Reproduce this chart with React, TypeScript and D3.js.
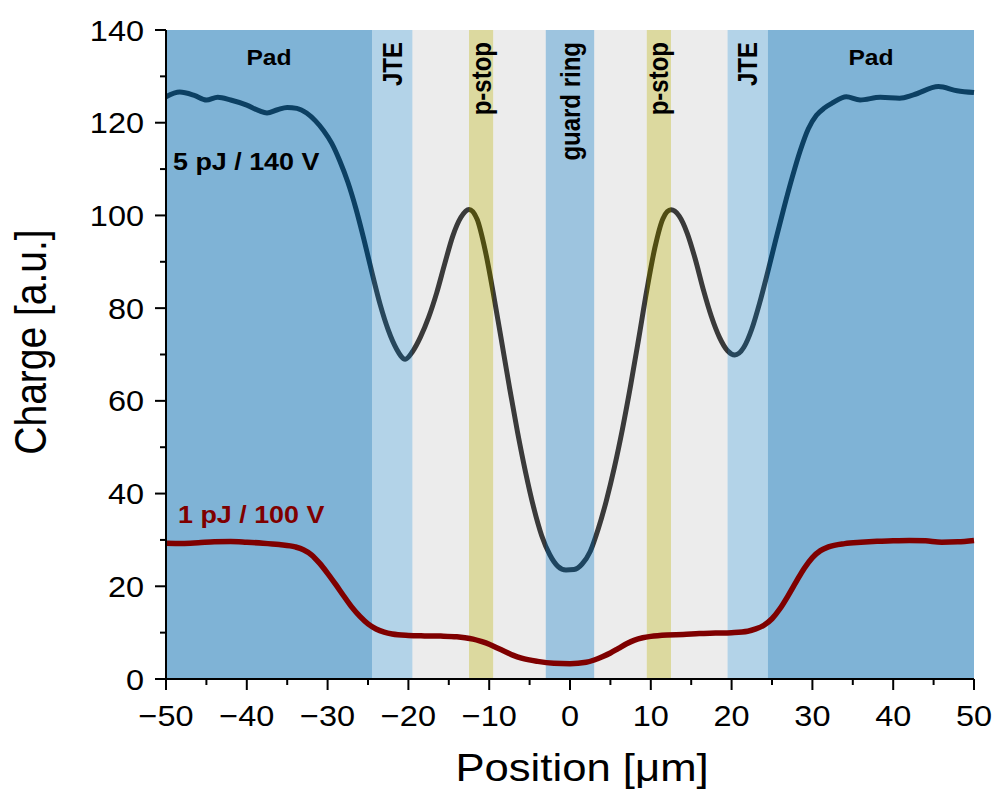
import React, { useRef, useEffect } from 'react';
import * as d3 from 'd3';

// 5 pJ / 140 V trace
const pos5 = [-50, -48.3, -46.5, -45, -43.6, -42, -40, -38.5, -37.5, -36.2, -35, -33.8, -32.6, -31.5, -30.5, -29.5, -28.5, -27.5, -26.5, -25.5, -24.5, -23.5, -22.5, -21.5, -20.4, -19.5, -18.5, -17.5, -16.5, -15.5, -14.5, -13.5, -12.5, -11.5, -10.5, -9.5, -8.5, -7.5, -6.5, -5.5, -4.5, -3.5, -2.5, -1.5, -0.5, 0.5, 1.5, 2.5, 3.5, 4.5, 5.5, 6.5, 7.5, 8.5, 9.5, 10.5, 11.5, 12.5, 13.5, 14.5, 15.5, 16.5, 17.5, 18.5, 19.5, 20.4, 21.5, 22.5, 23.5, 24.5, 25.5, 26.5, 27.5, 28.5, 29.5, 30.5, 31.5, 32.5, 34.2, 35.9, 38.4, 40.8, 42.5, 45.6, 47.9, 50];
const charge5 = [125.6, 126.6, 125.9, 124.9, 125.5, 124.9, 123.8, 122.6, 122.1, 122.8, 123.3, 123.1, 122.1, 120.4, 118.3, 115.6, 111.8, 107.2, 101.5, 94.8, 87.6, 80.8, 75.3, 71.3, 69.0, 70.6, 73.8, 78.0, 83.3, 89.6, 95.6, 99.6, 101.3, 99.2, 92.5, 83.3, 73.2, 63.0, 53.3, 44.6, 37.0, 30.9, 26.8, 24.3, 23.5, 23.6, 24.8, 27.5, 32.4, 38.5, 45.7, 54.0, 63.3, 73.4, 83.8, 93.0, 99.3, 101.2, 99.9, 96.2, 90.6, 84.0, 78.2, 73.7, 70.8, 69.9, 71.5, 75.5, 81.3, 88.0, 95.0, 101.8, 108.2, 114.0, 118.7, 121.6, 123.2, 124.3, 125.6, 124.9, 125.5, 125.3, 126.0, 127.8, 126.9, 126.5];

// 1 pJ / 100 V trace
const pos1 = [-50, -48, -46, -44, -42, -40, -38, -36, -34, -33, -32, -31, -30, -29, -28, -27, -26, -25, -24, -23, -22, -20, -18, -16, -14, -13, -12, -11, -10, -9, -8, -7, -6, -4, -2, 0, 2, 3, 4, 5, 6, 7, 8, 9, 10, 12, 14, 16, 18, 20, 22, 23, 24, 25, 26, 27, 28, 29, 30, 31, 32, 34, 36, 38, 40, 42, 44, 46, 48, 50];
const charge1 = [29.3, 29.25, 29.4, 29.6, 29.65, 29.5, 29.3, 29.0, 28.5, 27.9, 26.8, 25.0, 22.8, 20.4, 17.9, 15.5, 13.5, 11.9, 10.8, 10.1, 9.7, 9.4, 9.3, 9.25, 9.1, 8.9, 8.6, 8.1, 7.5, 6.7, 5.9, 5.1, 4.5, 3.8, 3.4, 3.3, 3.6, 4.1, 4.8, 5.6, 6.6, 7.6, 8.4, 8.9, 9.2, 9.5, 9.6, 9.8, 9.9, 10.0, 10.3, 10.8, 11.6, 13.0, 15.2, 18.0, 21.0, 23.9, 26.2, 27.7, 28.5, 29.2, 29.5, 29.7, 29.8, 29.9, 29.8, 29.5, 29.6, 29.9];

// device regions
const regionStart = [-50, -24.5, -19.5, -12.5, -9.5, -3, 3, 9.5, 12.5, 19.5, 24.5];
const regionEnd = [-24.5, -19.5, -12.5, -9.5, -3, 3, 9.5, 12.5, 19.5, 24.5, 50];
const regionKind = ['pad', 'jte', 'gap', 'pstop', 'gap', 'guard', 'gap', 'pstop', 'gap', 'jte', 'pad'];
const regionLabel = ['Pad', 'JTE', '', 'p-stop', '', 'guard ring', '', 'p-stop', '', 'JTE', 'Pad'];

const xTicks = [-50, -40, -30, -20, -10, 0, 10, 20, 30, 40, 50];
const xMinor = [-45, -35, -25, -15, -5, 5, 15, 25, 35, 45];
const yTicks = [0, 20, 40, 60, 80, 100, 120, 140];
const yMinor = [10, 30, 50, 70, 90, 110, 130];

const kindFill = {
  pad: { c: 'rgb(22,117,180)', a: 0.55 },
  guard: { c: 'rgb(59,137,191)', a: 0.5 },
  jte: { c: 'rgb(86,157,204)', a: 0.45 },
  gap: { c: 'rgb(192,192,192)', a: 0.3 },
  pstop: { c: 'rgb(177,171,42)', a: 0.45 },
};

const SX = 1.12; // text in the reference is a bit wider than plain Arial
const FONT = '"Liberation Sans", Arial, sans-serif';

function Chart() {
  const svgRef = useRef(null);

  useEffect(() => {
    const svg = d3.select(svgRef.current);
    svg.selectAll('*').remove();

    const width = 993;
    const height = 789;
    const margin = { top: 30, right: 19, bottom: 110, left: 166 };

    const x = d3.scaleLinear().domain([-50, 50]).range([margin.left, width - margin.right]);
    const y = d3.scaleLinear().domain([0, 140]).range([height - margin.bottom, margin.top]);

    svg.attr('width', width).attr('height', height).style('font-family', FONT);
    svg.append('rect').attr('width', width).attr('height', height).attr('fill', 'white');

    const line = d3.line().x(d => x(d[0])).y(d => y(d[1])).curve(d3.curveMonotoneX);

    // dark trace goes under the translucent bands
    svg.append('path')
      .datum(pos5.map((p, i) => [p, charge5[i]]))
      .attr('d', line)
      .attr('fill', 'none')
      .attr('stroke', '#000')
      .attr('stroke-width', 5);

    svg.append('g').selectAll('rect')
      .data(regionStart)
      .enter()
      .append('rect')
      .attr('x', (d) => x(d))
      .attr('y', y(140))
      .attr('width', (d, i) => x(regionEnd[i]) - x(d))
      .attr('height', y(0) - y(140))
      .attr('fill', (d, i) => kindFill[regionKind[i]].c)
      .attr('fill-opacity', (d, i) => kindFill[regionKind[i]].a);

    svg.append('path')
      .datum(pos1.map((p, i) => [p, charge1[i]]))
      .attr('d', line)
      .attr('fill', 'none')
      .attr('stroke', '#7f0000')
      .attr('stroke-width', 5.5);

    // region labels
    regionLabel.forEach((lab, i) => {
      if (!lab) return;
      const cx = x((regionStart[i] + regionEnd[i]) / 2);
      if (lab === 'Pad') {
        svg.append('text')
          .attr('transform', `translate(${cx},65) scale(${SX},1)`)
          .attr('text-anchor', 'middle')
          .style('font-size', '22px')
          .style('font-weight', 'bold')
          .text(lab);
      } else {
        svg.append('text')
          .attr('transform', `translate(${cx + 9.5},42) scale(${SX},1) rotate(-90)`)
          .attr('text-anchor', 'end')
          .style('font-size', '24px')
          .style('font-weight', 'bold')
          .text(lab);
      }
    });

    svg.append('text')
      .attr('transform', `translate(173,170) scale(${SX},1)`)
      .style('font-size', '24px')
      .style('font-weight', 'bold')
      .attr('fill', '#000')
      .text('5 pJ / 140 V');

    svg.append('text')
      .attr('transform', `translate(178,523) scale(${SX},1)`)
      .style('font-size', '24px')
      .style('font-weight', 'bold')
      .attr('fill', '#7f0000')
      .text('1 pJ / 100 V');

    // axes
    const ax = svg.append('g').attr('stroke', '#000').attr('stroke-width', 2);
    ax.append('line').attr('x1', x(-50)).attr('x2', x(50)).attr('y1', y(0)).attr('y2', y(0));
    ax.append('line').attr('x1', x(-50)).attr('x2', x(-50)).attr('y1', y(0)).attr('y2', y(140));
    xTicks.forEach(t => ax.append('line').attr('x1', x(t)).attr('x2', x(t)).attr('y1', y(0)).attr('y2', y(0) + 11));
    xMinor.forEach(t => ax.append('line').attr('x1', x(t)).attr('x2', x(t)).attr('y1', y(0)).attr('y2', y(0) + 6));
    yTicks.forEach(t => ax.append('line').attr('x1', x(-50)).attr('x2', x(-50) - 11).attr('y1', y(t)).attr('y2', y(t)));
    yMinor.forEach(t => ax.append('line').attr('x1', x(-50)).attr('x2', x(-50) - 6).attr('y1', y(t)).attr('y2', y(t)));

    const fmt = d3.format('d');
    xTicks.forEach(t => {
      svg.append('text')
        .attr('transform', `translate(${x(t)},726) scale(${SX},1)`)
        .attr('text-anchor', 'middle')
        .style('font-size', '29px')
        .text(fmt(t));
    });
    yTicks.forEach(t => {
      svg.append('text')
        .attr('transform', `translate(144,${y(t) + 10.5}) scale(${SX},1)`)
        .attr('text-anchor', 'end')
        .style('font-size', '29px')
        .text(fmt(t));
    });

    svg.append('text')
      .attr('transform', `translate(582,781) scale(${SX},1)`)
      .attr('text-anchor', 'middle')
      .style('font-size', '39px')
      .text('Position [μm]');

    svg.append('text')
      .attr('transform', `translate(46,342) scale(${SX},1) rotate(-90)`)
      .attr('text-anchor', 'middle')
      .style('font-size', '39px')
      .text('Charge [a.u.]');
  }, []);

  return <svg ref={svgRef} style={{ position: 'absolute', left: 0, top: 0 }}></svg>;
}

export default function App() {
  return <Chart />;
}
